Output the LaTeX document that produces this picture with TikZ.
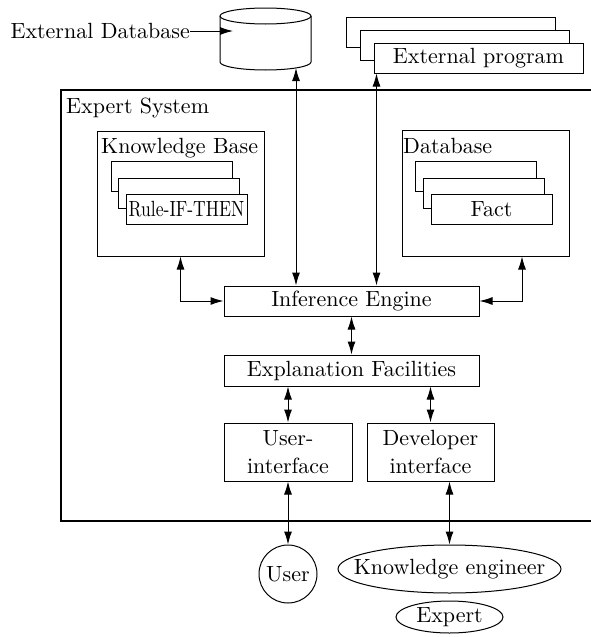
\documentclass[tikz,border=0pt]{standalone}
\usepackage{fontspec}
\setmainfont{lmroman10-regular}[Extension=.otf]
\usetikzlibrary{arrows.meta,shapes.geometric}
\begin{document}
\begin{tikzpicture}[x=1pt,y=-1pt,
  every node/.style={font=\fontsize{22}{28}\selectfont},
  box/.style={draw, line width=1pt, fill=white, inner sep=0pt, align=center},
  txt/.style={inner sep=0pt},
  both/.style={line width=1pt, {Latex[length=13pt,width=8pt]}-{Latex[length=13pt,width=8pt]}},
  oneway/.style={line width=1pt, -{Latex[length=13pt,width=8pt]}},
  stackbox/.style={box, minimum width=121pt, minimum height=30pt},
  oval/.style={draw, line width=1pt, ellipse, inner sep=0pt}
]
\useasboundingbox (0,0) rectangle (590,637);

% ---- external database (cylinder) ----
\draw[line width=1pt, fill=white] (220,16) -- (220,62)
  arc[start angle=180, end angle=0, x radius=45.5, y radius=8] -- (311,16);
\draw[line width=1pt] (265.5,16) ellipse [x radius=45.5, y radius=8];
\node[minimum width=91pt, minimum height=62pt, inner sep=0pt] (extdb) at (265.5,39) {};
\coordinate (dbin) at (233,31);
\coordinate (cylb) at (296,68);
\node[txt, anchor=east] (extlbl) at (190,31) {External Database};
\draw[oneway] (extlbl.east) -- (dbin);

% ---- external program (stack of three sheets) ----
\node[box, minimum width=209pt, minimum height=30pt] (prog1) at (450.5,32) {};
\node[box, minimum width=209pt, minimum height=30pt] (prog2) at (464.5,45) {};
\node[box, minimum width=209pt, minimum height=30pt] (prog) at (478.5,58) {External program};

% ---- expert system frame ----
\draw[line width=1.1pt] (592,90) -- (61,90) -- (61,521) -- (592,521);
\node[txt, anchor=base west] (es) at (66,113) {Expert System};

% ---- knowledge base ----
\node[box, minimum width=167pt, minimum height=125pt] (kb) at (180.5,193.5) {};
\node[txt, anchor=base west] (kblbl) at (101,153) {Knowledge Base};
\node[stackbox] (rule1) at (171.5,176) {};
\node[stackbox] (rule2) at (178.5,193) {};
\node[stackbox] (rule) at (186.5,209) {\scalebox{0.8}[1]{Rule-IF-THEN}};

% ---- database ----
\node[box, minimum width=167pt, minimum height=126pt] (db) at (485.5,193) {};
\node[txt, anchor=base west] (dblbl) at (403,153) {Database};
\node[stackbox] (fact1) at (476,176) {};
\node[stackbox] (fact2) at (483.5,193) {};
\node[stackbox] (fact) at (491.5,209) {Fact};

% ---- engine, facilities, interfaces ----
\node[box, minimum width=255pt, minimum height=30pt] (ie) at (351.5,301) {Inference Engine};
\node[box, minimum width=255pt, minimum height=31pt] (ef) at (351.5,370.5) {Explanation Facilities};
\node[box, minimum width=128pt, minimum height=58pt] (ui) at (288,452) {User-\\interface};
\node[box, minimum width=127pt, minimum height=58pt] (di) at (430.5,452) {Developer\\interface};

% ---- people ----
\node[oval, circle, minimum size=58pt] (user) at (288,574) {User};
\node[oval, inner xsep=-18pt, minimum width=223pt, minimum height=48pt] (ke) at (449.5,569) {Knowledge engineer};
\node[oval, minimum width=107pt, minimum height=32pt] (expert) at (449.5,617) {Expert};

% ---- connectors ----
\draw[both] (cylb) -- (cylb |- ie.north);
\draw[both] ([xshift=3pt]prog.south west) -- ([xshift=3pt]prog.south west |- ie.north);
\draw[both] (kb.south) |- (ie.west);
\draw[both] ([xshift=36.5pt]db.south) |- (ie.east);
\draw[both] (ie.south) -- (ef.north);
\draw[both] (ui.north |- ef.south) -- (ui.north);
\draw[both] (di.north |- ef.south) -- (di.north);
\draw[both] (ui.south) -- (user.north);
\draw[both] (ke.north |- di.south) -- (ke.north);
\end{tikzpicture}
\end{document}
